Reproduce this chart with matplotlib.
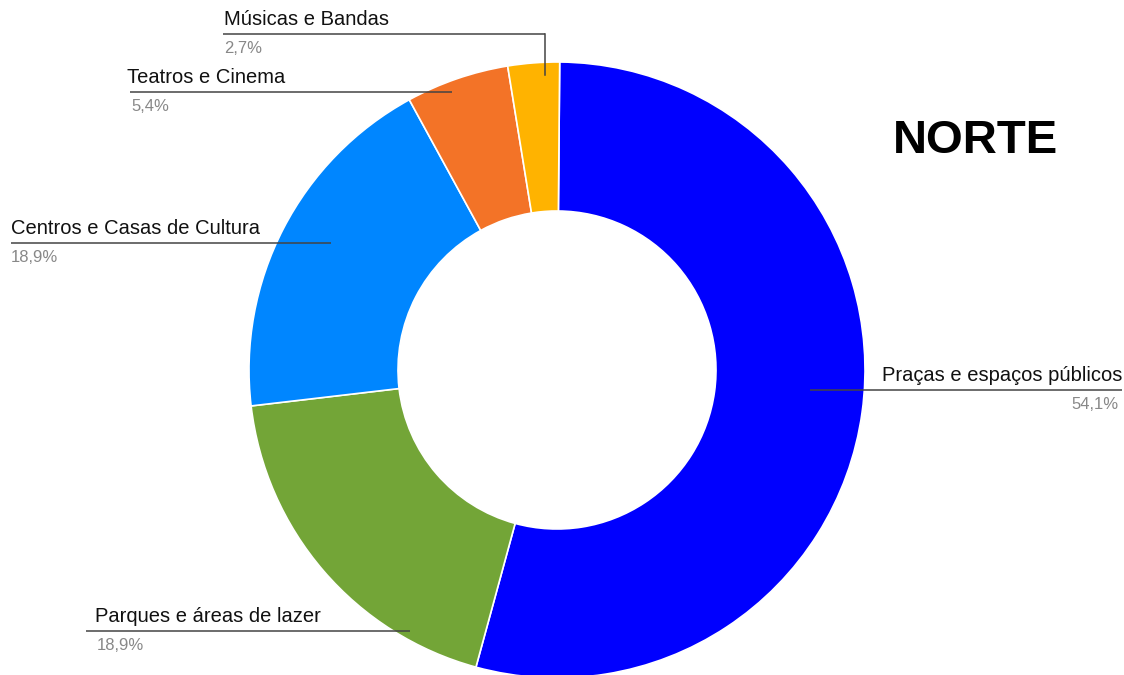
import matplotlib
matplotlib.use("Agg")
import matplotlib.pyplot as plt

categories = ["Praças e espaços públicos", "Parques e áreas de lazer",
              "Centros e Casas de Cultura", "Teatros e Cinema", "Músicas e Bandas"]
values = [54.1, 18.9, 18.9, 5.4, 2.7]
pct_labels = ["54,1%", "18,9%", "18,9%", "5,4%", "2,7%"]
colors = ["#0000FF", "#73A537", "#0086FF", "#F37327", "#FFB300"]
title = "NORTE"

W, H = 1124, 675
fig = plt.figure(figsize=(W / 100, H / 100), dpi=100)
ax = fig.add_axes([0, 0, 1, 1])
ax.set_xlim(0, W)
ax.set_ylim(0, H)
ax.set_aspect("equal")
ax.axis("off")

cx, cy = 557, H - 370
R, r = 308, 159
ax.pie(values, colors=colors, startangle=89.5, counterclock=False,
       center=(cx, cy), radius=R,
       wedgeprops=dict(width=R - r, edgecolor="white", linewidth=1.2))
ax.set_xlim(0, W)
ax.set_ylim(0, H)

FONT = "Liberation Sans"
# label layout: (line y, line x0, line x1, text x, ha, pct x, optional vertical end y)
layout = [
    dict(ly=390, x0=810, x1=1122, tx=1122, ha="right", px=1119, vy=None),
    dict(ly=631, x0=86, x1=410, tx=95, ha="left", px=97, vy=None),
    dict(ly=243, x0=11, x1=331, tx=11, ha="left", px=11, vy=None),
    dict(ly=92, x0=130, x1=452, tx=127, ha="left", px=131, vy=None),
    dict(ly=34, x0=223, x1=545, tx=224, ha="left", px=224, vy=75),
]

for cat, pct, L in zip(categories, pct_labels, layout):
    y = H - L["ly"]
    ax.plot([L["x0"], L["x1"]], [y, y], color="#444444", lw=1.1, solid_capstyle="butt")
    if L["vy"] is not None:
        ax.plot([L["x1"], L["x1"]], [y, H - L["vy"]], color="#444444", lw=1.1)
    ax.text(L["tx"], y + 5, cat, ha=L["ha"], va="bottom", fontsize=14.5,
            family=FONT, color="#111111")
    ax.text(L["px"], y - 7, pct, ha=L["ha"], va="top", fontsize=12,
            family=FONT, color="#888888")

ax.text(975, H - 141, title, ha="center", va="center", fontsize=34,
        fontweight="bold", family=FONT, color="black")

fig.savefig("out.png", dpi=100)
